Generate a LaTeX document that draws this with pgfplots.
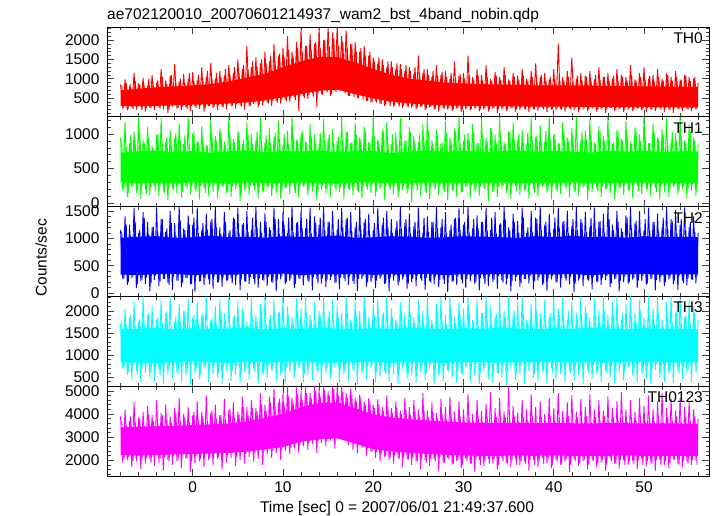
\documentclass[border=0pt]{standalone}
\usepackage{fontspec}
\setmainfont{Liberation Sans}
\usepackage{pgfplots}
\pgfplotsset{compat=1.18}
\usepgfplotslibrary{fillbetween}
\usepackage{pgfplotstable}

\definecolor{qred}{RGB}{255,0,0}
\definecolor{qgreen}{RGB}{0,255,0}
\definecolor{qblue}{RGB}{0,0,255}
\definecolor{qcyan}{RGB}{0,255,255}
\definecolor{qmag}{RGB}{255,0,255}

% light curves, 0.25 s steps: r=TH0 g=TH1 b=TH2 c=TH3 m=TH0123
\pgfplotstableread{
t r g b c m
-8.00 850 950 1150 1700 3900
-7.75 230 180 250 700 1900
-7.50 980 1180 1400 2050 4200
-7.25 180 90 150 560 2000
-7.00 760 870 1250 1850 3700
-6.75 260 230 280 450 1700
-6.50 1150 1040 1560 2200 4500
-6.25 200 140 90 650 1950
-6.00 880 1250 1100 1750 3850
-5.75 300 60 220 380 1600
-5.50 1020 910 1480 2325 4100
-5.25 150 200 170 600 1850
-5.00 820 1100 1300 1900 4350
-4.75 240 120 30 500 2050
-4.50 1100 820 1200 2100 3950
-4.25 190 250 240 420 1750
-4.00 900 990 1550 1800 4600
-3.75 260 100 130 680 1900
-3.50 1250 1230 1350 2250 4050
-3.25 210 170 260 350 1550
-3.00 950 880 1120 1950 4400
-2.75 120 40 190 560 2000
-2.50 1080 1060 1500 2325 3900
-2.25 280 210 60 470 1800
-2.00 1380 940 1280 1750 4250
-1.75 230 150 230 620 1950
-1.50 920 1150 1580 2150 4700
-1.25 190 80 110 400 1650
-1.00 1120 860 1180 2000 4000
-0.75 260 240 270 540 2050
-0.50 1000 1250 1420 2280 4300
-0.25 170 130 160 330 1500
0.00 1180 1010 1250 1850 3950
0.25 280 190 20 600 1850
0.50 960 900 1560 2200 4550
0.75 220 50 210 460 1950
1.00 1300 1120 1150 1900 4100
1.25 150 220 140 700 1700
1.50 1050 840 1450 2325 4800
1.75 300 110 250 390 2000
2.00 1420 1200 1320 1800 4050
2.25 240 160 80 580 1800
2.50 1000 970 1580 2100 4400
2.75 190 70 190 480 2050
3.00 1200 1080 1200 2250 3950
3.25 270 230 120 350 1600
3.50 1080 890 1480 1950 4650
3.75 210 140 230 650 1900
4.00 1350 1250 1100 2325 4200
4.25 300 90 270 420 2100
4.50 1150 930 1380 1850 4500
4.75 230 200 150 560 1750
5.00 1500 1040 1560 2200 4100
5.25 330 30 60 380 2000
5.50 1250 850 1250 2050 4750
5.75 200 180 220 620 1850
6.00 1850 1170 1500 1750 4300
6.25 290 120 170 450 2150
6.50 1300 1000 1150 2300 4600
6.75 350 250 260 700 1950
7.00 1550 910 1580 1900 4250
7.25 260 70 100 340 2050
7.50 1400 1240 1300 2150 4900
7.75 310 170 240 590 1800
8.00 1700 870 1450 2325 4400
8.25 380 220 130 470 2250
8.50 1450 1090 1200 1800 4750
8.75 300 100 200 650 2100
9.00 1900 960 1560 2250 5100
9.25 420 150 30 400 2300
9.50 1600 1190 1350 1950 4500
9.75 350 60 250 540 2000
10.00 1800 830 1480 2325 4900
10.25 460 210 160 360 2400
10.50 2100 1050 1100 2100 5200
10.75 400 130 220 610 2250
11.00 1700 1250 1580 1850 4700
11.25 520 190 90 480 2500
11.50 1950 920 1280 2280 5150
11.75 170 80 270 700 2300
12.00 2300 1010 1520 2050 5000
12.25 560 240 140 390 2600
12.50 1850 880 1180 2325 5200
12.75 480 110 230 560 2450
13.00 2150 1140 1560 1900 4900
13.25 620 170 50 430 2700
13.50 1900 990 1400 2200 5200
13.75 270 40 260 650 2300
14.00 2340 860 1250 2000 5100
14.25 600 200 180 350 2750
14.50 2000 1220 1580 2325 5200
14.75 700 140 110 600 2600
15.00 2340 940 1300 1850 5000
15.25 560 90 240 470 2850
15.50 2200 1070 1500 2250 5200
15.75 680 230 190 720 2500
16.00 2340 900 1150 2100 5150
16.25 800 160 70 380 2950
16.50 2100 1250 1550 1950 5200
16.75 850 60 280 560 3000
17.00 2250 1030 1350 2325 4900
17.25 550 210 150 420 2650
17.50 1900 870 1480 1800 5100
17.75 620 120 220 680 2450
18.00 1950 1160 1200 2200 4700
18.25 500 180 40 340 2300
18.50 1700 950 1580 2000 4850
18.75 560 70 250 600 2550
19.00 1850 1110 1300 2325 4550
19.25 420 240 120 450 2200
19.50 1600 890 1450 1850 4700
19.75 380 150 200 700 2350
20.00 1550 1250 1150 2150 4400
20.25 430 100 90 380 2100
20.50 1400 920 1560 2280 4650
20.75 350 200 260 520 1950
21.00 1500 1060 1250 1900 4300
21.25 300 50 170 640 2150
21.50 1300 1180 1500 2325 4800
21.75 380 220 30 410 2000
22.00 1450 850 1350 2050 4250
22.25 280 130 230 580 1850
22.50 1250 1030 1180 1800 4550
22.75 330 80 140 360 2100
23.00 1380 1230 1580 2200 4150
23.25 240 190 250 680 1700
23.50 1200 900 1280 1950 4700
23.75 300 140 80 470 2050
24.00 1300 1100 1450 2325 4300
24.25 250 20 200 550 1800
24.50 1120 970 1220 1850 4600
24.75 210 250 130 380 1950
25.00 1600 880 1560 2250 4200
25.25 280 110 270 620 1600
25.50 1150 1140 1100 2000 4900
25.75 190 170 60 450 2000
26.00 1250 1250 1400 2325 4150
26.25 260 60 220 700 1750
26.50 1050 910 1300 1800 4500
26.75 200 230 160 340 2050
27.00 1350 1060 1580 2150 4050
27.25 150 120 110 560 1550
27.50 1100 860 1200 2300 4650
27.75 240 200 250 420 1900
28.00 1200 1190 1480 1900 4300
28.25 200 40 20 650 2100
28.50 1000 950 1150 2325 4750
28.75 170 180 200 490 1800
29.00 1450 1080 1350 1850 4100
29.25 230 90 150 370 1950
29.50 1080 1250 1550 2200 4550
29.75 140 150 240 600 1650
30.00 1150 900 1250 2050 4200
30.25 210 240 90 720 2050
30.50 1600 1020 1580 2325 4850
30.75 180 70 220 400 1850
31.00 1050 1150 1180 1800 4000
31.25 240 190 170 540 1500
31.50 1250 870 1420 2250 4600
31.75 160 110 50 350 2000
32.00 1100 1230 1300 1950 4150
32.25 200 220 260 660 1750
32.50 1350 940 1560 2325 4450
32.75 150 30 130 460 2050
33.00 1000 1090 1150 2100 4950
33.25 230 160 210 380 1850
33.50 1180 990 1480 1850 4250
33.75 120 90 80 600 1600
34.00 1050 1250 1250 2300 4700
34.25 210 210 240 500 2100
34.50 1300 880 1580 2000 4100
34.75 170 140 160 330 1900
35.00 980 1040 1200 2325 5200
35.25 240 60 30 690 1700
35.50 1150 1170 1450 1900 4350
35.75 150 250 220 440 2050
36.00 1080 910 1320 2200 4050
36.25 190 120 120 580 1800
36.50 1250 1060 1560 2325 4600
36.75 230 180 260 360 1950
37.00 1000 850 1100 1800 4200
37.25 140 70 180 650 1550
37.50 1200 1240 1500 2150 4850
37.75 210 200 70 480 2000
38.00 1400 960 1380 2325 4300
38.25 170 100 230 400 1700
38.50 1050 1130 1580 1950 4550
38.75 250 230 150 620 2100
39.00 1150 890 1250 2250 4000
39.25 130 150 40 350 1850
39.50 980 1250 1450 1850 4700
39.75 200 50 250 700 1650
40.00 1250 1000 1180 2300 4250
40.25 180 190 190 450 2000
40.50 1900 870 1560 2050 4900
40.75 220 130 100 570 1800
41.00 1050 1180 1300 2325 4150
41.25 150 240 270 380 1950
41.50 1200 940 1500 1800 4500
41.75 240 80 160 640 1500
42.00 1550 1090 1220 2200 4800
42.25 190 170 20 420 2050
42.50 1000 1250 1580 1950 4100
42.75 130 110 230 560 1750
43.00 1150 900 1350 2325 4650
43.25 210 220 130 340 1950
43.50 1080 1050 1480 2100 4300
43.75 160 40 250 680 1600
44.00 1200 1210 1200 1850 4850
44.25 230 160 70 470 2000
44.50 980 880 1560 2280 4200
44.75 150 230 210 600 1700
45.00 1300 1120 1300 2000 4600
45.25 200 90 150 390 1900
45.50 1050 970 1450 2325 4150
45.75 120 200 240 650 1550
46.00 1150 1250 1580 1900 4750
46.25 240 140 110 500 2100
46.50 1000 860 1250 2200 4250
46.75 170 60 260 360 1850
47.00 1250 1060 1500 2325 4550
47.25 210 210 30 620 1650
47.50 1100 930 1180 1800 4950
47.75 140 120 200 430 2000
48.00 1050 1190 1420 2150 4200
48.25 200 180 170 700 1800
48.50 1350 900 1580 2325 4600
48.75 160 70 240 540 1950
49.00 980 1100 1280 1950 4100
49.25 230 250 90 380 1600
49.50 1150 990 1500 2250 4700
49.75 180 130 220 610 2050
50.00 1300 1250 1150 1850 4350
50.25 130 190 150 460 1750
50.50 1000 870 1560 2325 4800
50.75 210 100 260 350 1900
51.00 1100 1150 1300 2050 4200
51.25 170 220 50 670 1550
51.50 1250 950 1450 2325 4550
51.75 240 50 200 490 2000
52.00 1000 1070 1200 1800 4900
52.25 150 160 130 400 1800
52.50 1150 1230 1580 2200 4250
52.75 200 90 250 590 1650
53.00 1050 880 1350 2325 4650
53.25 120 240 170 370 2050
53.50 1200 1010 1520 1950 4150
53.75 220 130 60 650 1850
54.00 980 1250 1250 2300 4700
54.25 170 200 230 450 1700
54.50 1100 910 1560 1850 4300
54.75 230 70 140 580 1950
55.00 1050 1140 1200 2250 4550
55.25 160 180 250 400 1800
55.50 1000 960 1400 2100 4200
55.75 200 110 180 620 2000
56.00 900 850 1100 1800 3800
}\lc

% interleaved samples (moderate excursions at the band edges)
\pgfplotstableread{
t r g b c m
-7.875 820 900 1120 1750 3700
-7.625 260 200 270 700 2050
-7.375 900 820 1250 1680 3550
-7.125 300 150 200 620 2150
-6.875 780 980 1050 1900 3900
-6.625 220 240 310 760 1950
-6.375 950 860 1300 1650 3650
-6.125 280 180 160 560 2200
-5.875 850 1030 1150 1820 3800
-5.625 190 260 240 680 2000
-5.375 780 880 1380 1700 3500
-5.125 310 130 290 800 2100
-4.875 1000 950 1080 1950 4000
-4.625 250 220 180 600 1900
-4.375 830 800 1220 1620 3700
-4.125 290 170 320 720 2250
-3.875 960 1000 1100 1850 3600
-3.625 230 250 210 540 2050
-3.375 1050 870 1350 1720 3950
-3.125 300 140 260 780 2150
-2.875 870 960 1180 1980 3750
-2.625 200 230 150 650 1950
-2.375 1100 830 1280 1650 3600
-2.125 310 190 300 700 2200
-1.875 900 1020 1050 1880 4050
-1.625 240 270 230 580 2000
-1.375 1000 900 1320 1750 3700
-1.125 280 160 190 760 2250
-0.875 880 980 1150 2000 3850
-0.625 220 210 280 620 2100
-0.375 1150 850 1250 1680 3650
-0.125 300 240 170 800 1950
0.125 950 1040 1380 1900 4100
0.375 250 180 310 680 2200
0.625 1100 880 1100 1720 3750
0.875 320 250 220 560 2050
1.125 980 960 1280 1950 3900
1.375 230 150 270 740 2250
1.625 1200 820 1150 1650 3700
1.875 300 220 160 640 2100
2.125 1000 1000 1350 1850 4150
2.375 270 260 300 780 2300
2.625 1150 900 1200 1700 3800
2.875 320 190 200 600 2150
3.125 1050 1050 1080 2000 3950
3.375 260 240 290 720 2350
3.625 1250 840 1300 1780 3750
3.875 330 170 230 820 2200
4.125 1100 980 1150 1680 4200
4.375 290 230 180 650 2300
4.625 1300 880 1350 1900 3850
4.875 340 260 310 760 2150
5.125 1150 1030 1100 1720 4000
5.375 280 150 250 580 2400
5.625 1350 920 1280 2000 4300
5.875 360 210 200 700 2250
6.125 1250 990 1120 1650 3950
6.375 300 250 290 800 2450
6.625 1450 850 1380 1850 4250
6.875 380 180 160 620 2300
7.125 1300 1040 1200 1750 4100
7.375 330 230 270 740 2500
7.625 1500 900 1100 2000 4400
7.875 400 160 230 560 2350
8.125 1400 980 1300 1700 4150
8.375 360 240 300 780 2550
8.625 1600 870 1150 1900 4500
8.875 430 200 190 660 2400
9.125 1450 1020 1350 1750 4300
9.375 380 270 250 820 2600
9.625 1650 930 1080 1980 4650
9.875 460 170 310 600 2450
10.125 1550 1000 1250 1680 4400
10.375 420 230 200 720 2700
10.625 1750 850 1380 1900 4750
10.875 500 250 280 800 2550
11.125 1600 990 1120 1750 4500
11.375 450 150 170 640 2800
11.625 1800 900 1300 2000 4850
11.875 540 220 260 760 2650
12.125 1700 1050 1180 1700 4600
12.375 500 260 320 580 2900
12.625 1850 880 1350 1950 4900
12.875 580 190 210 700 2750
13.125 1750 970 1100 1800 4700
13.375 540 240 290 820 2950
13.625 1950 860 1280 1650 5000
13.875 620 170 180 620 2800
14.125 1800 1020 1380 1900 4750
14.375 580 250 270 760 3000
14.625 2000 920 1150 1750 5050
14.875 640 200 240 680 2850
15.125 1850 1000 1300 2000 4800
15.375 600 260 300 560 3050
15.625 2050 870 1100 1700 5100
15.875 660 180 190 800 2900
16.125 1850 960 1350 1850 4800
16.375 700 230 280 700 3000
16.625 1950 900 1200 1680 4950
16.875 620 270 220 620 2850
17.125 1800 1040 1380 1950 4700
17.375 560 190 300 780 2800
17.625 1900 880 1120 1750 4850
17.875 520 240 170 660 2700
18.125 1700 990 1300 1900 4550
18.375 500 160 260 820 2650
18.625 1800 920 1150 1700 4700
18.875 460 250 310 600 2550
19.125 1600 1030 1350 2000 4400
19.375 430 200 200 740 2500
19.625 1700 870 1080 1650 4550
19.875 400 270 280 800 2400
20.125 1450 960 1280 1880 4250
20.375 380 170 230 620 2350
20.625 1550 900 1150 1720 4400
20.875 350 230 300 760 2250
21.125 1350 1040 1380 1950 4150
21.375 330 250 180 580 2200
21.625 1450 880 1200 1680 4300
21.875 300 190 270 700 2100
22.125 1300 1000 1100 1850 4050
22.375 320 260 320 820 2200
22.625 1400 850 1320 1750 4250
22.875 280 160 200 640 2050
23.125 1250 980 1180 2000 4000
23.375 300 240 290 760 2150
23.625 1350 910 1350 1680 4200
23.875 260 200 170 560 2000
24.125 1200 1030 1100 1900 3950
24.375 290 250 260 780 2100
24.625 1300 870 1300 1720 4150
24.875 240 180 310 650 1950
25.125 1150 990 1150 1950 3900
25.375 280 270 220 720 2050
25.625 1250 900 1380 1650 4100
25.875 230 150 280 600 1900
26.125 1100 1050 1120 1850 3850
26.375 270 230 190 800 2050
26.625 1200 860 1300 1700 4050
26.875 220 200 300 680 1950
27.125 1080 970 1180 2000 3800
27.375 260 260 240 580 2100
27.625 1180 880 1350 1750 4000
27.875 230 170 170 760 1900
28.125 1050 1010 1100 1680 3750
28.375 250 240 290 620 2050
28.625 1150 900 1250 1950 3950
28.875 210 190 220 800 1850
29.125 1020 1040 1380 1720 3700
29.375 240 270 300 650 2000
29.625 1120 850 1150 1900 3900
29.875 200 160 180 560 1800
30.125 1000 990 1300 1650 3650
30.375 250 230 260 740 1950
30.625 1100 920 1100 2000 3850
30.875 220 260 320 680 1850
31.125 980 1030 1350 1750 3700
31.375 240 180 200 800 2000
31.625 1080 870 1180 1680 3900
31.875 210 240 280 600 1800
32.125 960 980 1300 1950 3650
32.375 250 200 170 720 1950
32.625 1050 900 1150 1800 3850
32.875 200 270 300 640 1850
33.125 950 1050 1380 1700 3700
33.375 240 160 240 800 2000
33.625 1080 880 1100 1950 3900
33.875 210 230 310 580 1800
34.125 980 990 1280 1680 3650
34.375 250 250 190 760 1950
34.625 1100 860 1350 1850 3850
34.875 200 190 270 660 1850
35.125 950 1040 1150 1750 3700
35.375 240 260 220 820 2000
35.625 1050 910 1300 2000 3900
35.875 210 170 300 600 1800
36.125 970 1000 1100 1680 3650
36.375 250 240 180 740 1950
36.625 1080 870 1380 1900 3850
36.875 200 200 260 640 1850
37.125 940 1030 1200 1750 3700
37.375 240 270 310 800 2000
37.625 1050 900 1120 1650 3900
37.875 210 150 220 580 1800
38.125 960 980 1350 2000 3650
38.375 250 230 290 720 1950
38.625 1100 880 1150 1800 3850
38.875 200 260 180 660 1850
39.125 950 1050 1300 1700 3700
39.375 240 190 270 820 2000
39.625 1050 910 1100 1950 3900
39.875 210 240 320 600 1800
40.125 980 990 1380 1680 3650
40.375 250 170 200 760 1950
40.625 1100 860 1180 1900 3850
40.875 200 250 280 640 1850
41.125 960 1040 1320 1750 3700
41.375 240 210 230 800 2000
41.625 1050 900 1100 2000 3900
41.875 210 270 300 580 1800
42.125 940 980 1350 1680 3650
42.375 250 160 180 740 1950
42.625 1080 870 1150 1850 3850
42.875 200 230 270 660 1850
43.125 960 1030 1300 1720 3700
43.375 240 250 310 820 2000
43.625 1050 920 1120 1950 3900
43.875 210 190 220 600 1800
44.125 950 990 1380 1650 3650
44.375 250 260 290 760 1950
44.625 1100 850 1180 1880 3850
44.875 200 170 200 640 1850
45.125 970 1040 1320 1750 3700
45.375 240 240 280 800 2000
45.625 1050 900 1100 2000 3900
45.875 210 200 310 580 1800
46.125 950 980 1350 1700 3650
46.375 250 270 180 740 1950
46.625 1080 880 1150 1900 3850
46.875 200 160 270 660 1850
47.125 940 1030 1300 1720 3700
47.375 240 230 230 800 2000
47.625 1050 910 1120 1950 3900
47.875 210 250 300 600 1800
48.125 960 990 1380 1680 3650
48.375 250 190 200 760 1950
48.625 1100 860 1180 1850 3850
48.875 200 260 280 640 1850
49.125 950 1040 1320 1750 3700
49.375 240 170 230 820 2000
49.625 1050 900 1100 2000 3900
49.875 210 240 310 580 1800
50.125 970 980 1350 1680 3650
50.375 250 210 180 740 1950
50.625 1080 870 1150 1900 3850
50.875 200 270 270 660 1850
51.125 940 1030 1300 1720 3700
51.375 240 160 240 800 2000
51.625 1050 920 1120 1950 3900
51.875 210 230 300 600 1800
52.125 960 990 1380 1650 3650
52.375 250 250 200 760 1950
52.625 1100 850 1180 1880 3850
52.875 200 190 280 640 1850
53.125 950 1040 1320 1750 3700
53.375 240 260 230 820 2000
53.625 1050 900 1100 2000 3900
53.875 210 170 310 580 1800
54.125 970 980 1350 1700 3650
54.375 250 240 180 740 1950
54.625 1080 880 1150 1900 3850
54.875 200 200 270 660 1850
55.125 940 1030 1300 1720 3700
55.375 240 270 240 800 2000
55.625 1050 910 1120 1950 3900
55.875 210 160 300 600 1800
}\lcb

% dense core of each band (lower/upper), every 2 s
\pgfplotstableread{
t l0 u0 l1 u1 l2 u2 l3 u3 l4 u4
-8 300 700 300 730 340 1010 840 1580 2220 3420
-6 290 740 285 750 330 1030 830 1600 2200 3450
-4 300 780 295 760 345 1040 820 1620 2220 3470
-2 310 800 285 735 350 1010 845 1580 2250 3490
0 330 830 300 755 330 1020 860 1610 2270 3520
2 340 860 290 730 345 1050 840 1590 2290 3550
4 360 930 280 750 335 1020 825 1600 2320 3590
6 390 1030 300 765 350 1030 850 1620 2370 3680
8 440 1130 290 735 340 1010 835 1580 2470 3820
10 520 1300 285 755 355 1040 850 1610 2570 4000
12 600 1450 300 745 330 1020 860 1590 2800 4300
14 690 1560 290 765 345 1030 840 1620 2900 4480
16 720 1560 280 735 340 1050 830 1600 2950 4500
18 600 1420 295 750 350 1010 850 1580 2720 4250
20 490 1250 300 755 335 1020 845 1610 2480 3980
22 410 1100 285 725 345 1040 830 1590 2380 3850
24 360 1000 290 745 340 1030 850 1620 2320 3770
26 330 950 300 765 350 1010 840 1600 2270 3720
28 310 900 285 740 330 1020 825 1580 2230 3670
30 300 880 295 755 345 1040 850 1610 2200 3630
32 295 860 290 735 340 1030 845 1590 2190 3610
34 290 850 300 750 350 1020 830 1620 2190 3600
36 285 840 285 765 335 1010 850 1600 2200 3620
38 280 830 295 740 345 1040 840 1580 2190 3600
40 280 830 290 755 340 1020 855 1610 2200 3610
42 275 825 300 745 350 1050 835 1590 2190 3600
44 270 820 285 730 330 1020 845 1620 2190 3590
46 270 815 295 760 345 1030 830 1600 2190 3610
48 265 810 290 745 340 1010 850 1580 2200 3600
50 265 800 300 755 350 1040 840 1610 2190 3590
52 265 800 285 735 335 1020 855 1590 2190 3600
54 260 790 295 750 345 1030 835 1600 2190 3590
56 260 790 290 745 340 1020 845 1580 2190 3570
}\core

\pgfplotsset{
  panel/.style={
    anchor=south west, at={(107bp,#1)},
    scale only axis, width=602bp, height=89.8bp,
    xmin=-9.5, xmax=57.2,
    xtick={-10,0,...,60}, minor x tick num=4,
    tick align=inside,
    major tick length=7bp, minor tick length=3.5bp,
    tick style={black!75, line width=0.6bp},
    axis line style={line width=0.8bp, black},
    tick label style={font=\fontsize{15.5bp}{17bp}\selectfont},
    yticklabel style={xshift=-4bp},
    xticklabel style={yshift=-2bp},
    /pgf/number format/assume math mode=true,
    /pgf/number format/1000 sep={},
    scaled ticks=false,
  },
}
\tikzset{lab/.style={anchor=north east, inner sep=0pt, font=\fontsize{15.5bp}{17bp}\selectfont}}

\begin{document}
\begin{tikzpicture}

\begin{axis}[panel=399.2bp, xticklabels={}, ymin=15, ymax=2340,
  ytick={0,500,...,2500}, minor y tick num=4]
\addplot[draw=none, name path=u0] table[x=t, y=u0] {\core};
\addplot[draw=none, name path=l0] table[x=t, y=l0] {\core};
\addplot[qred] fill between[of=u0 and l0];
\addplot[qred, line width=0.9bp] table[x=t, y=r] {\lcb};
\addplot[qred, line width=0.9bp] table[x=t, y=r] {\lc};
\node[lab] at (rel axis cs:0.99,0.94) {TH0};
\end{axis}

\begin{axis}[panel=309.4bp, xticklabels={}, ymin=-50, ymax=1250,
  ytick={-500,0,...,1500}, minor y tick num=4]
\addplot[draw=none, name path=u1] table[x=t, y=u1] {\core};
\addplot[draw=none, name path=l1] table[x=t, y=l1] {\core};
\addplot[qgreen] fill between[of=u1 and l1];
\addplot[qgreen, line width=0.9bp] table[x=t, y=g] {\lcb};
\addplot[qgreen, line width=0.9bp] table[x=t, y=g] {\lc};
\node[lab] at (rel axis cs:0.99,0.94) {TH1};
\end{axis}

\begin{axis}[panel=219.6bp, xticklabels={}, ymin=-60, ymax=1580,
  ytick={-500,0,...,2000}, minor y tick num=4]
\addplot[draw=none, name path=u2] table[x=t, y=u2] {\core};
\addplot[draw=none, name path=l2] table[x=t, y=l2] {\core};
\addplot[qblue] fill between[of=u2 and l2];
\addplot[qblue, line width=0.9bp] table[x=t, y=b] {\lcb};
\addplot[qblue, line width=0.9bp] table[x=t, y=b] {\lc};
\node[lab] at (rel axis cs:0.99,0.94) {TH2};
\end{axis}

\begin{axis}[panel=129.8bp, xticklabels={}, ymin=300, ymax=2325,
  ytick={0,500,...,2500}, minor y tick num=4]
\addplot[draw=none, name path=u3] table[x=t, y=u3] {\core};
\addplot[draw=none, name path=l3] table[x=t, y=l3] {\core};
\addplot[qcyan] fill between[of=u3 and l3];
\addplot[qcyan, line width=0.9bp] table[x=t, y=c] {\lcb};
\addplot[qcyan, line width=0.9bp] table[x=t, y=c] {\lc};
\node[lab] at (rel axis cs:0.99,0.94) {TH3};
\end{axis}

\begin{axis}[panel=40bp, ymin=1316, ymax=5203,
  ytick={1000,2000,...,6000}, minor y tick num=4]
\addplot[draw=none, name path=u4] table[x=t, y=u4] {\core};
\addplot[draw=none, name path=l4] table[x=t, y=l4] {\core};
\addplot[qmag] fill between[of=u4 and l4];
\addplot[qmag, line width=0.9bp] table[x=t, y=m] {\lcb};
\addplot[qmag, line width=0.9bp] table[x=t, y=m] {\lc};
\node[lab] at (rel axis cs:0.99,0.94) {TH0123};
\end{axis}

\node[anchor=base west, inner sep=0pt, font=\fontsize{15.5bp}{17bp}\selectfont]
  at (107bp,496bp) {ae702120010\_20070601214937\_wam2\_bst\_4band\_nobin.qdp};
\node[anchor=base, inner sep=0pt, font=\fontsize{15.5bp}{17bp}\selectfont]
  at (397bp,4bp) {Time [sec] 0 = 2007/06/01 21:49:37.600};
\node[rotate=90, inner sep=0pt, font=\fontsize{15.5bp}{17bp}\selectfont]
  at (41bp,258bp) {Counts/sec};
\pgfresetboundingbox
\useasboundingbox (0,0) rectangle (717bp,516bp);
\end{tikzpicture}
\end{document}
